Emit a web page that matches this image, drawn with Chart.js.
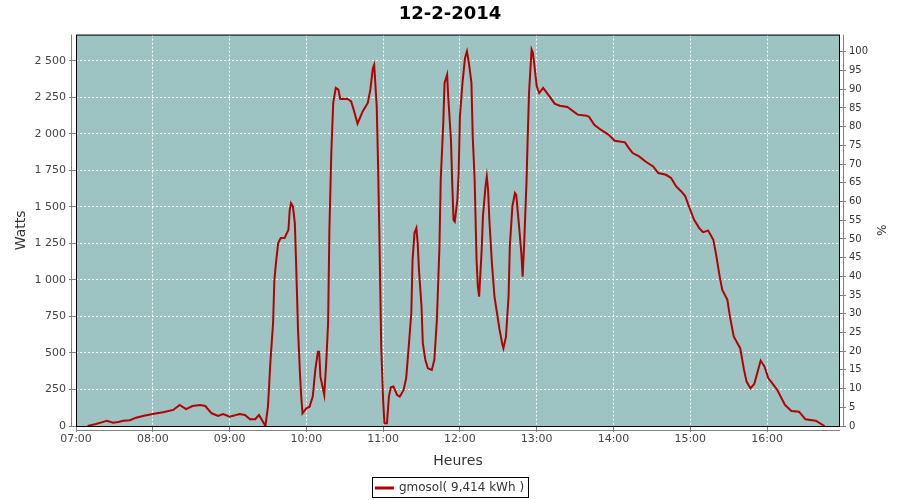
<!DOCTYPE html>
<html>
<head>
<meta charset="utf-8">
<script src="https://cdn.jsdelivr.net/npm/chart.js@4.4.1/dist/chart.umd.min.js"></script>
<style>
    html, body { margin: 0; padding: 0; background: #ffffff; }
    #wrap { width: 900px; height: 500px; }
</style>
</head>
<body>
<div id="wrap"><canvas id="chart" width="900" height="500"></canvas></div>
<script>
var chartTitle = '12-2-2014';
var seriesLabel = 'gmosol( 9,414 kWh )';

// heure de la mesure / puissance (W)
var times = [
    '07:09', '07:15', '07:20', '07:24', '07:29', '07:33', '07:37', '07:42', '07:47', '07:53',
    '08:00', '08:08', '08:16', '08:21', '08:26', '08:31', '08:37', '08:41', '08:46', '08:51',
    '08:55', '09:00', '09:08', '09:12', '09:16', '09:20', '09:23', '09:26', '09:28', '09:30',
    '09:32', '09:34', '09:35', '09:36:30', '09:38', '09:40', '09:43', '09:46', '09:47', '09:48',
    '09:49:30', '09:51', '09:52', '09:53:30', '09:55', '09:56', '09:57', '10:00', '10:02:30', '10:05',
    '10:07', '10:09', '10:10', '10:11', '10:14', '10:15:30', '10:17', '10:18', '10:19:30', '10:21',
    '10:23', '10:25', '10:26:30', '10:32', '10:35', '10:37', '10:40', '10:44', '10:48', '10:50',
    '10:52', '10:53', '10:55', '10:56', '10:57', '10:58:30', '11:00', '11:01', '11:03', '11:04:30',
    '11:06', '11:08', '11:11', '11:13', '11:16', '11:18', '11:20', '11:22', '11:23', '11:24:30',
    '11:26', '11:27', '11:28', '11:30', '11:31', '11:33', '11:35', '11:38', '11:40', '11:42',
    '11:44', '11:45', '11:47', '11:48', '11:50', '11:51', '11:53', '11:54', '11:55', '11:56',
    '11:58', '11:59', '12:00', '12:02', '12:04', '12:05:30', '12:07', '12:09', '12:10', '12:11:30',
    '12:13', '12:14', '12:15', '12:17', '12:18', '12:20', '12:21', '12:22', '12:23', '12:25',
    '12:27', '12:29', '12:31', '12:33', '12:34', '12:36', '12:38', '12:39', '12:41', '12:43',
    '12:44', '12:46', '12:48', '12:49', '12:50', '12:52', '12:53', '12:54', '12:56', '12:57',
    '12:58', '13:00', '13:02', '13:05', '13:10', '13:14', '13:18', '13:24', '13:32', '13:39',
    '13:41', '13:45', '13:50', '13:56', '14:01', '14:09', '14:12', '14:15', '14:20', '14:25',
    '14:31', '14:35', '14:41', '14:45', '14:49', '14:53', '14:56', '14:59', '15:03', '15:07',
    '15:10', '15:14', '15:18', '15:20', '15:23', '15:25', '15:29', '15:31', '15:34', '15:39',
    '15:42', '15:44', '15:47', '15:50', '15:53', '15:55', '15:58', '16:01', '16:04', '16:08',
    '16:14', '16:19', '16:25', '16:30', '16:38', '16:45'
];
var watts = [
    0, 12, 25, 36, 23, 27, 36, 40, 57, 70,
    82, 94, 110, 144, 116, 137, 144, 137, 87, 69,
    82, 64, 82, 75, 46, 46, 75, 30, 0, 132,
    452, 704, 1000, 1138, 1252, 1287, 1287, 1343, 1480, 1526,
    1503, 1389, 1115, 658, 361, 201, 87, 121, 132, 201,
    384, 509, 509, 338, 212, 430, 706, 1343, 1869, 2212,
    2315, 2303, 2239, 2241, 2223, 2166, 2070, 2154, 2212, 2303,
    2452, 2474, 2188, 1801, 1343, 544, 178, 18, 18, 201,
    265, 270, 212, 201, 247, 327, 544, 772, 1138, 1321,
    1355, 1252, 1069, 818, 567, 452, 395, 384, 452, 726,
    1229, 1686, 2075, 2349, 2406, 2234, 1960, 1663, 1412, 1400,
    1549, 1732, 2120, 2349, 2520, 2566, 2486, 2349, 1983, 1686,
    1138, 955, 886, 1206, 1435, 1640, 1709, 1618, 1412, 1115,
    886, 772, 658, 567, 533, 612, 886, 1229, 1503, 1595,
    1583, 1389, 1184, 1023, 1206, 1663, 1983, 2280, 2577, 2555,
    2486, 2326, 2280, 2315, 2257, 2207, 2193, 2184, 2132, 2125,
    2116, 2063, 2029, 1995, 1953, 1942, 1903, 1869, 1846, 1811,
    1777, 1732, 1720, 1698, 1640, 1606, 1575, 1503, 1412, 1355,
    1327, 1338, 1275, 1184, 1023, 932, 864, 749, 612, 533,
    384, 304, 258, 288, 384, 448, 407, 327, 293, 247,
    144, 103, 98, 46, 36, 0
];

var hourTicks = ['07:00', '08:00', '09:00', '10:00', '11:00', '12:00', '13:00', '14:00', '15:00', '16:00'];
var xStart = '07:00';
var xEnd = '16:57';
var wattsMax = 2680;
var percentMax = 104.6;

function toMinutes(t) {
    var p = t.split(':');
    return Number(p[0]) * 60 + Number(p[1]) + (p[2] ? Number(p[2]) / 60 : 0);
}

function formatHour(m) {
    var h = Math.round(m / 60);
    return (h < 10 ? '0' : '') + h + ':00';
}

function formatWatts(v) {
    v = Math.round(v);
    if (v >= 1000) {
        var r = String(v % 1000);
        while (r.length < 3) r = '0' + r;
        return Math.floor(v / 1000) + ' ' + r;
    }
    return String(v);
}

// ne garder que les graduations "rondes" (pas la borne max)
function keepSteps(step) {
    return function (scale) {
        scale.ticks = scale.ticks.filter(function (t) {
            var r = t.value / step;
            return Math.abs(r - Math.round(r)) < 1e-3;
        });
    };
}

var points = times.map(function (t, i) {
    return { x: toMinutes(t), y: watts[i] };
});

var FONT = 'DejaVu Sans';
var AXIS_GREY = '#808080';
var LEGEND_SHIFT = 4;

var plotDecor = {
    id: 'plotDecor',
    afterLayout: function (chart) {
        var lg = chart.legend;
        if (!lg) return;
        lg.top += LEGEND_SHIFT;
        lg.bottom += LEGEND_SHIFT;
    },
    beforeDraw: function (chart) {
        var a = chart.chartArea;
        var ctx = chart.ctx;
        ctx.save();
        ctx.fillStyle = '#9dc3c2';
        ctx.fillRect(a.left, a.top, a.right - a.left, a.bottom - a.top);
        ctx.restore();
    },
    afterDraw: function (chart) {
        var a = chart.chartArea;
        var ctx = chart.ctx;
        ctx.save();
        ctx.strokeStyle = '#000000';
        ctx.lineWidth = 1;
        ctx.strokeRect(a.left + 0.5, a.top + 0.5, a.right - a.left - 1, a.bottom - a.top);

        ctx.strokeStyle = AXIS_GREY;
        ctx.beginPath();
        ctx.moveTo(a.left - 4.5, a.top);
        ctx.lineTo(a.left - 4.5, a.bottom + 1);
        ctx.moveTo(a.right + 3.5, a.top);
        ctx.lineTo(a.right + 3.5, a.bottom + 1);
        ctx.moveTo(a.left, a.bottom + 4.5);
        ctx.lineTo(a.right, a.bottom + 4.5);
        ctx.stroke();

        // cadre de la légende
        var lg = chart.legend;
        if (lg && lg.legendHitBoxes && lg.legendHitBoxes.length) {
            var hb = lg.legendHitBoxes[0];
            ctx.strokeStyle = '#000000';
            ctx.strokeRect(Math.round(hb.left) - 3.5, Math.round(hb.top) - 4.5, Math.round(hb.width) + 8, Math.round(hb.height) + 8);
        }
        ctx.restore();
    }
};

new Chart(document.getElementById('chart').getContext('2d'), {
    type: 'line',
    data: {
        datasets: [{
            label: seriesLabel,
            data: points,
            borderColor: '#b40000',
            backgroundColor: '#b40000',
            borderWidth: 2,
            pointRadius: 0,
            tension: 0,
            fill: false,
            yAxisID: 'y'
        }]
    },
    options: {
        responsive: false,
        animation: false,
        events: [],
        layout: { padding: 0 },
        plugins: {
            title: {
                display: true,
                text: chartTitle,
                color: '#000000',
                font: { family: FONT, size: 18, weight: 'bold' },
                padding: { top: 4, bottom: 9 }
            },
            legend: {
                position: 'bottom',
                labels: {
                    color: '#333333',
                    font: { family: FONT, size: 12 },
                    boxWidth: 17,
                    boxHeight: 1,
                    padding: 2
                }
            },
            tooltip: { enabled: false }
        },
        scales: {
            x: {
                type: 'linear',
                min: toMinutes(xStart),
                max: toMinutes(xEnd),
                title: {
                    display: true,
                    text: 'Heures',
                    color: '#333333',
                    font: { family: FONT, size: 14 },
                    padding: { top: 2, bottom: 6 }
                },
                ticks: {
                    maxRotation: 0,
                    color: '#444444',
                    font: { family: FONT, size: 11 },
                    padding: 1,
                    callback: function (v) { return formatHour(v); }
                },
                afterBuildTicks: function (scale) {
                    scale.ticks = hourTicks.map(function (t) { return { value: toMinutes(t) }; });
                },
                grid: {
                    color: '#ffffff',
                    lineWidth: 1,
                    tickColor: AXIS_GREY,
                    tickLength: 6
                },
                border: { display: false, dash: [2, 2] },
                afterFit: function (scale) { scale.height = 50; }
            },
            y: {
                position: 'left',
                min: 0,
                max: wattsMax,
                title: {
                    display: true,
                    text: 'Watts',
                    color: '#333333',
                    font: { family: FONT, size: 14 },
                    padding: { top: 13, bottom: 0 }
                },
                ticks: {
                    stepSize: 250,
                    color: '#444444',
                    font: { family: FONT, size: 11 },
                    padding: 3,
                    callback: function (v) { return formatWatts(v); }
                },
                afterBuildTicks: keepSteps(250),
                grid: {
                    color: '#ffffff',
                    lineWidth: 1,
                    tickColor: AXIS_GREY,
                    tickLength: 7
                },
                border: { display: false, dash: [2, 2] },
                afterFit: function (scale) { scale.width = 76; }
            },
            y1: {
                position: 'right',
                min: 0,
                max: percentMax,
                title: {
                    display: true,
                    text: '%',
                    color: '#333333',
                    font: { family: FONT, size: 12 },
                    padding: { top: 13, bottom: 0 }
                },
                ticks: {
                    stepSize: 5,
                    color: '#333333',
                    font: { family: FONT, size: 10 },
                    padding: 3,
                    callback: function (v) { return String(Math.round(v)); }
                },
                afterBuildTicks: keepSteps(5),
                grid: {
                    drawOnChartArea: false,
                    tickColor: AXIS_GREY,
                    tickLength: 6
                },
                border: { display: false },
                afterFit: function (scale) { scale.width = 60; }
            }
        }
    },
    plugins: [plotDecor]
});
</script>
</body>
</html>
